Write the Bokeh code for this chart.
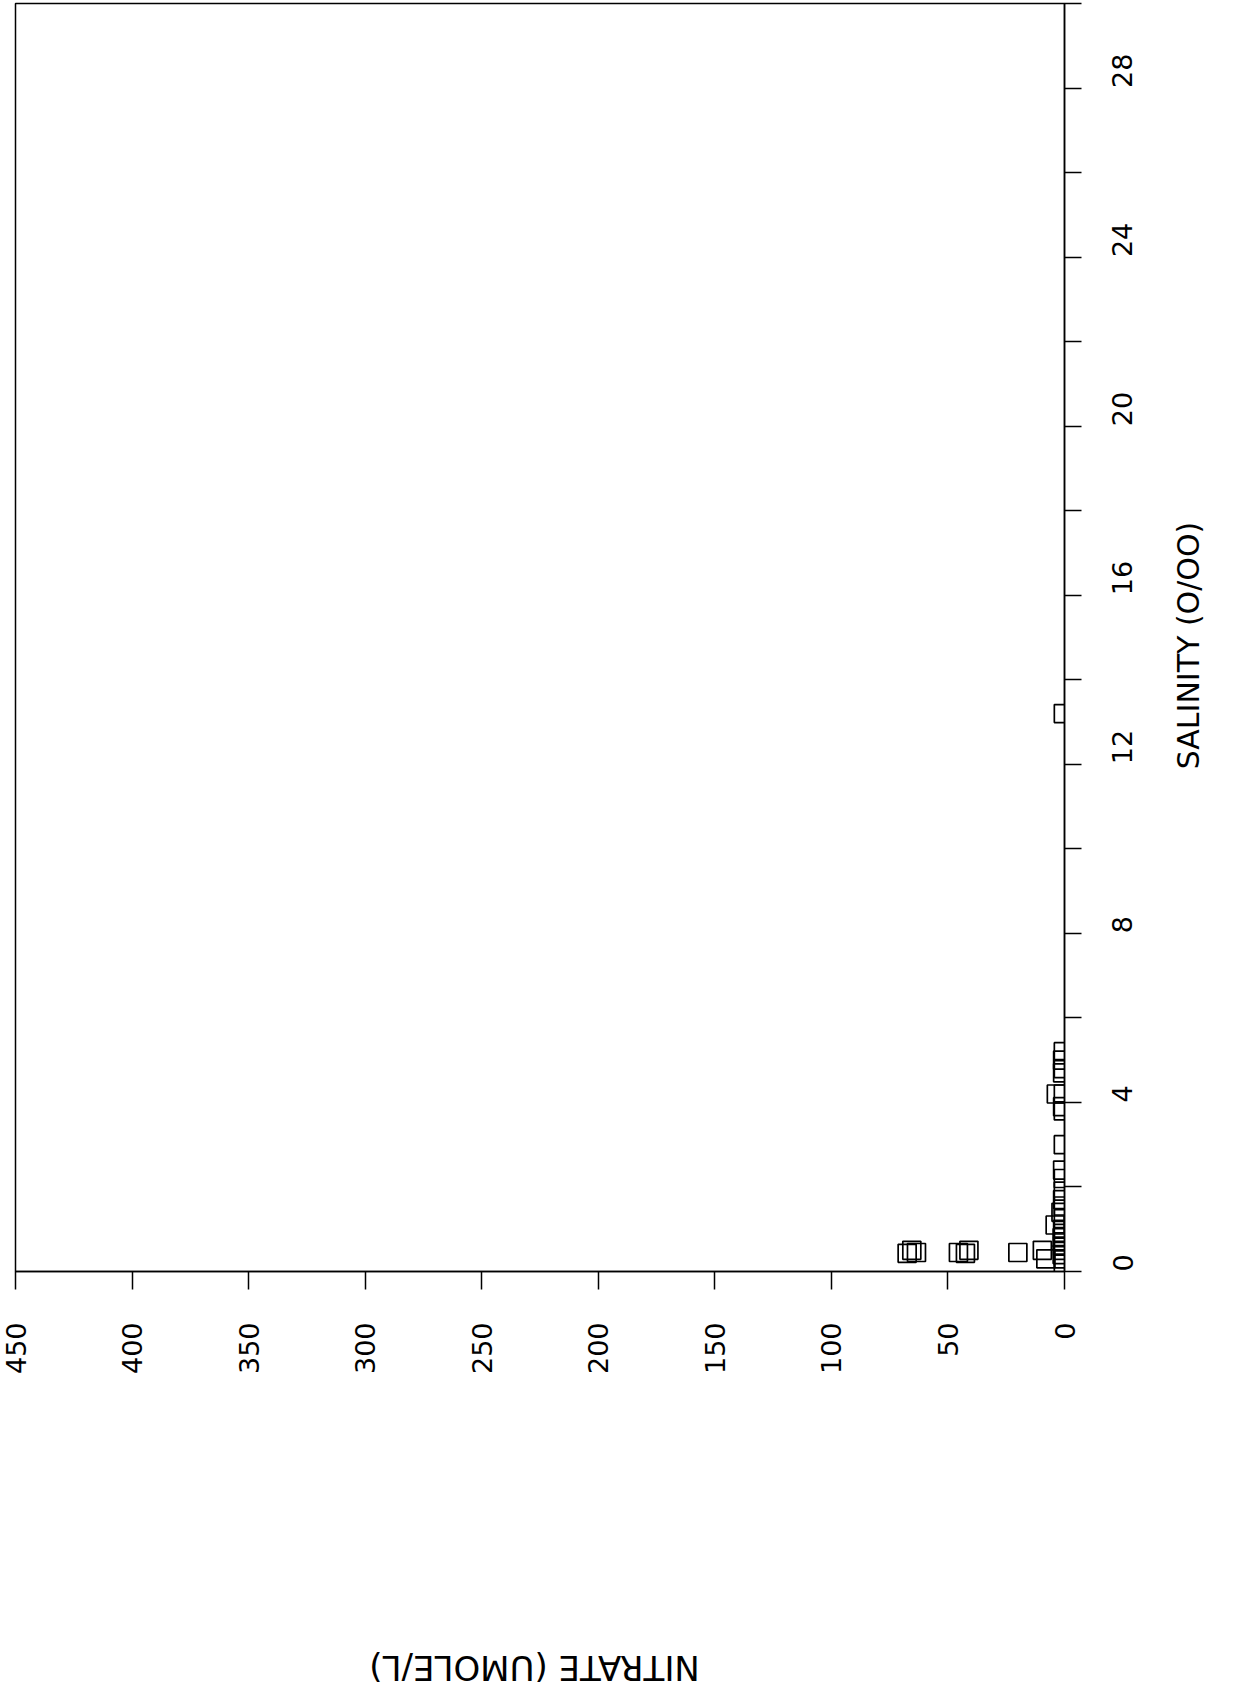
import math
from bokeh.plotting import figure
from bokeh.layouts import row, column
from bokeh.models import Range1d, FixedTicker, ColumnDataSource
from bokeh.core.properties import value
from bokeh.embed import file_html
from bokeh.resources import INLINE

# Data read from the (rotated) scanned chart: salinity (o/oo) vs nitrate (umole/L)
salinity = [0.43, 0.50, 0.45,
            0.45, 0.43, 0.50,
            0.45,
            0.50, 0.30,
            13.2,
            5.2, 5.0, 4.8, 4.7,
            4.2, 4.2, 3.9, 3.8,
            3.0, 2.4, 2.2,
            1.9, 1.7, 1.55, 1.4, 1.25, 1.1, 1.0, 0.9, 0.8, 0.7, 0.6, 0.5, 0.4, 0.3, 0.2]
nitrate = [67.5, 65.5, 63.5,
           45.5, 42.5, 41.0,
           20.0,
           9.5, 8.0,
           0.5,
           0.5, 0.8, 0.5, 0.8,
           3.5, 0.5, 0.8, 0.5,
           0.5, 0.8, 0.5,
           0.5, 0.8, 0.5, 1.5, 0.5, 4.0, 0.8, 0.5, 1.0, 0.5, 0.8, 0.5, 1.0, 0.5, 0.5]

nitrate_ticks = [0, 50, 100, 150, 200, 250, 300, 350, 400, 450]
salinity_ticks = [0, 4, 8, 12, 16, 20, 24, 28]
salinity_minor = [2, 6, 10, 14, 18, 22, 26, 30]

x_label = "NITRATE (UMOLE/L)"
y_label = "SALINITY (O/OO)"

font = "DejaVu Sans"

W_MAIN, H_MAIN = 1160, 1390
W_TOTAL, H_TOTAL = 1220, 1689

src = ColumnDataSource(dict(n=nitrate, s=salinity))

p = figure(width=W_MAIN, height=H_MAIN, output_backend="svg", toolbar_location=None,
           x_range=Range1d(450, 0), y_range=Range1d(0, 30),
           y_axis_location="right",
           min_border_left=15, min_border_top=3, min_border_right=W_MAIN - 1064,
           min_border_bottom=H_MAIN - 1271)

p.grid.visible = False
p.outline_line_color = "black"
p.outline_line_width = 1.5
p.background_fill_color = "white"
p.border_fill_color = "white"

p.scatter("n", "s", source=src, marker="square", size=18,
          fill_alpha=0, line_color="black", line_width=1.7)

xa = p.xaxis[0]
xa.ticker = FixedTicker(ticks=nitrate_ticks)
xa.major_tick_out = 18
xa.major_tick_in = 0
xa.minor_tick_out = 0
xa.axis_line_width = 1.5
xa.major_tick_line_width = 1.5
xa.major_label_orientation = math.pi / 2
xa.major_label_standoff = 33
xa.major_label_text_font = font
xa.major_label_text_font_size = "27px"
xa.major_label_text_color = "black"

ya = p.yaxis[0]
ya.ticker = FixedTicker(ticks=salinity_ticks, minor_ticks=salinity_minor)
ya.major_tick_out = 17
ya.major_tick_in = 0
ya.minor_tick_out = 17
ya.minor_tick_in = 0
ya.axis_line_width = 1.5
ya.major_tick_line_width = 1.5
ya.minor_tick_line_width = 1.5
ya.minor_tick_line_color = "black"
ya.major_label_orientation = math.pi / 2
ya.major_label_standoff = 41
ya.major_label_text_font = font
ya.major_label_text_font_size = "27px"
ya.major_label_text_color = "black"


def blank(w, h):
    f = figure(width=w, height=h, output_backend="svg", toolbar_location=None,
               x_range=Range1d(0, w), y_range=Range1d(0, h),
               x_axis_type=None, y_axis_type=None,
               min_border_left=0, min_border_right=0, min_border_top=0, min_border_bottom=0)
    f.grid.visible = False
    f.outline_line_color = None
    f.background_fill_color = "white"
    f.border_fill_color = "white"
    return f


# strip below the chart holding the (upside-down) nitrate axis title
pb = blank(W_MAIN, H_TOTAL - H_MAIN)
pb.text(x=[574], y=[(H_TOTAL - H_MAIN) - (1667 - H_MAIN)], text=[x_label], angle=math.pi,
        text_align="center", text_baseline="middle",
        text_font=value(font), text_font_size="34px", text_color="black")

# strip right of the chart holding the salinity axis title
pr = blank(W_TOTAL - W_MAIN, H_TOTAL)
pr.text(x=[1188 - W_MAIN], y=[H_TOTAL - 645], text=[y_label], angle=math.pi / 2,
        text_align="center", text_baseline="middle",
        text_font=value(font), text_font_size="30px", text_color="black")

layout = row(column(p, pb, spacing=0), pr, spacing=0)

open("out.html", "w").write(file_html(layout, INLINE))
